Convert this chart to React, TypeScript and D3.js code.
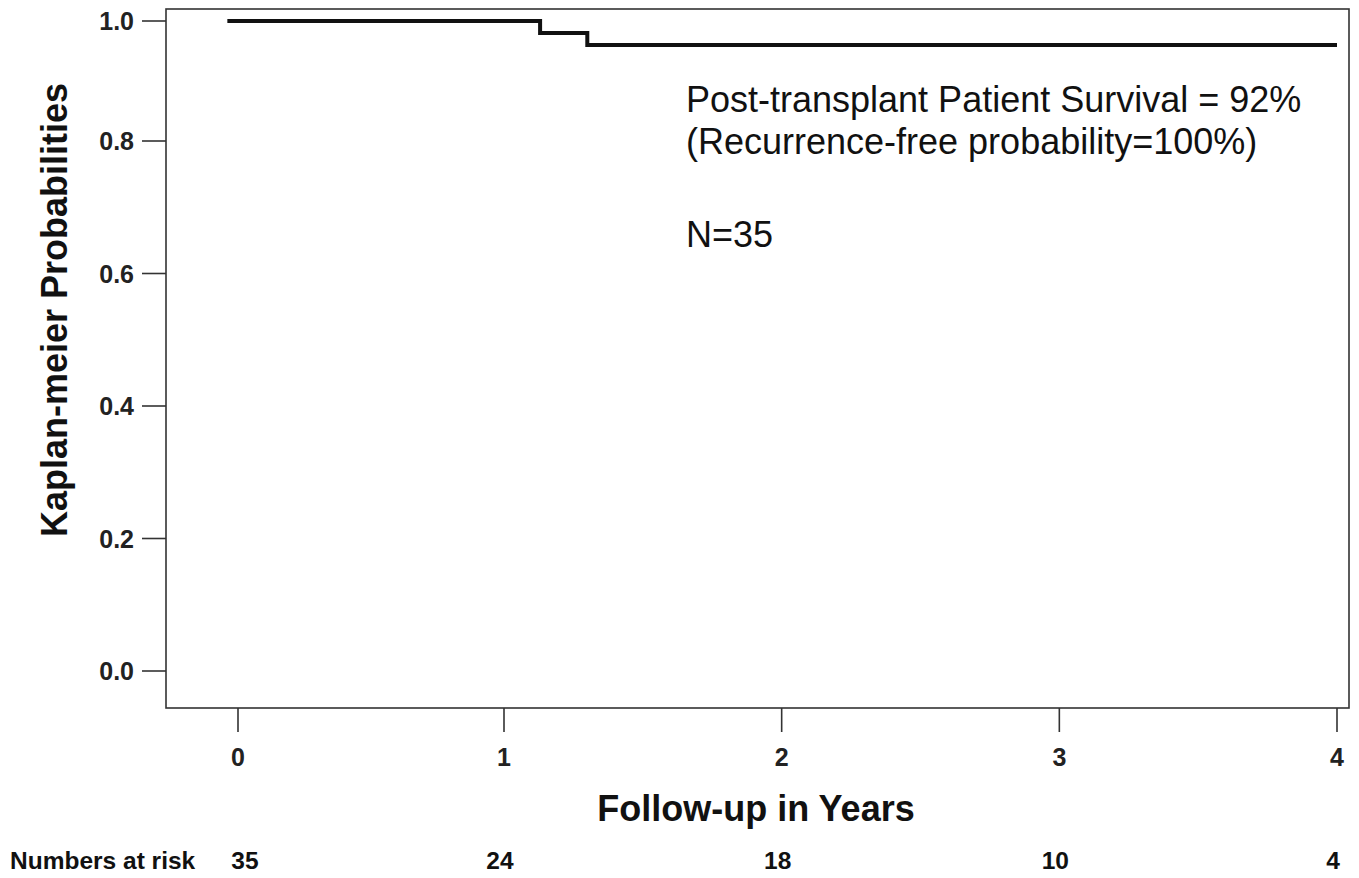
import React from "react";
import * as d3 from "d3";

// ---- data ----
const survTimes = [-0.04, 1.13, 1.3, 4.0];
const survProbs = [1.0, 0.98, 0.96, 0.96];
const xTickValues = [0, 1, 2, 3, 4];
const xTickLabels = ["0", "1", "2", "3", "4"];
const yTickValues = [0, 0.2, 0.4, 0.6, 0.8, 1.0];
const yTickLabels = ["0.0", "0.2", "0.4", "0.6", "0.8", "1.0"];
const atRiskTimes = [0, 1, 2, 3, 4];
const atRiskCounts = [35, 24, 18, 10, 4];
const annotationLines = [
  "Post-transplant Patient Survival = 92%",
  "(Recurrence-free probability=100%)",
];
const nLabel = "N=35";

const W = 1359;
const H = 878;
const box = { left: 166, right: 1349, top: 9, bottom: 708 };
const FONT = "'Liberation Sans', Arial, sans-serif";

export default function App() {
  const x = d3.scaleLinear().domain([0, 1, 4]).range([238, 504, 1337]);
  const y = d3.scaleLinear().domain([0, 0.8, 1.0]).range([671, 141, 21]);

  const pts: [number, number][] = survTimes.map((t, i) => [t, survProbs[i]]);
  const line = d3
    .line<[number, number]>()
    .x((d) => x(d[0]))
    .y((d) => y(d[1]))
    .curve(d3.curveStepAfter);

  const tickLen = 24;

  return (
    <svg
      width={W}
      height={H}
      style={{ position: "absolute", left: 0, top: 0, background: "#fff" }}
    >
      <rect x={0} y={0} width={W} height={H} fill="#fff" />
      {/* plot frame */}
      <rect
        x={box.left}
        y={box.top}
        width={box.right - box.left}
        height={box.bottom - box.top}
        fill="none"
        stroke="#333"
        strokeWidth={1.6}
      />
      {/* y ticks */}
      {yTickValues.map((v, i) => (
        <g key={"y" + i}>
          <line
            x1={box.left - tickLen}
            x2={box.left}
            y1={y(v)}
            y2={y(v)}
            stroke="#333"
            strokeWidth={1.6}
          />
          <text
            x={134}
            y={y(v)}
            dy="0.36em"
            textAnchor="end"
            fontFamily={FONT}
            fontWeight="bold"
            fontSize={25}
            fill="#222"
          >
            {yTickLabels[i]}
          </text>
        </g>
      ))}
      {/* x ticks */}
      {xTickValues.map((v, i) => (
        <g key={"x" + i}>
          <line
            x1={x(v)}
            x2={x(v)}
            y1={box.bottom}
            y2={box.bottom + tickLen}
            stroke="#333"
            strokeWidth={1.6}
          />
          <text
            x={x(v)}
            y={766}
            textAnchor="middle"
            fontFamily={FONT}
            fontWeight="bold"
            fontSize={25}
            fill="#222"
          >
            {xTickLabels[i]}
          </text>
        </g>
      ))}
      {/* survival curve */}
      <path d={line(pts) || ""} fill="none" stroke="#111" strokeWidth={4} />
      {/* annotations */}
      {annotationLines.map((s, i) => (
        <text
          key={"a" + i}
          x={686}
          y={112 + i * 42}
          fontFamily={FONT}
          fontSize={36}
          fill="#111"
        >
          {s}
        </text>
      ))}
      <text x={686} y={247} fontFamily={FONT} fontSize={36} fill="#111">
        {nLabel}
      </text>
      {/* axis titles */}
      <text
        x={756}
        y={821}
        textAnchor="middle"
        fontFamily={FONT}
        fontWeight="bold"
        fontSize={36}
        fill="#111"
      >
        Follow-up in Years
      </text>
      <text
        transform={`translate(67, 310) rotate(-90)`}
        textAnchor="middle"
        fontFamily={FONT}
        fontWeight="bold"
        fontSize={36}
        fill="#111"
      >
        Kaplan-meier Probabilities
      </text>
      {/* numbers at risk */}
      <text
        x={10}
        y={869}
        fontFamily={FONT}
        fontWeight="bold"
        fontSize={24.5}
        fill="#111"
      >
        Numbers at risk
      </text>
      {atRiskTimes.map((t, i) => (
        <text
          key={"r" + i}
          x={i === 0 ? x(t) + 7 : x(t) - 4}
          y={869}
          textAnchor="middle"
          fontFamily={FONT}
          fontWeight="bold"
          fontSize={24.5}
          fill="#111"
        >
          {atRiskCounts[i]}
        </text>
      ))}
    </svg>
  );
}
